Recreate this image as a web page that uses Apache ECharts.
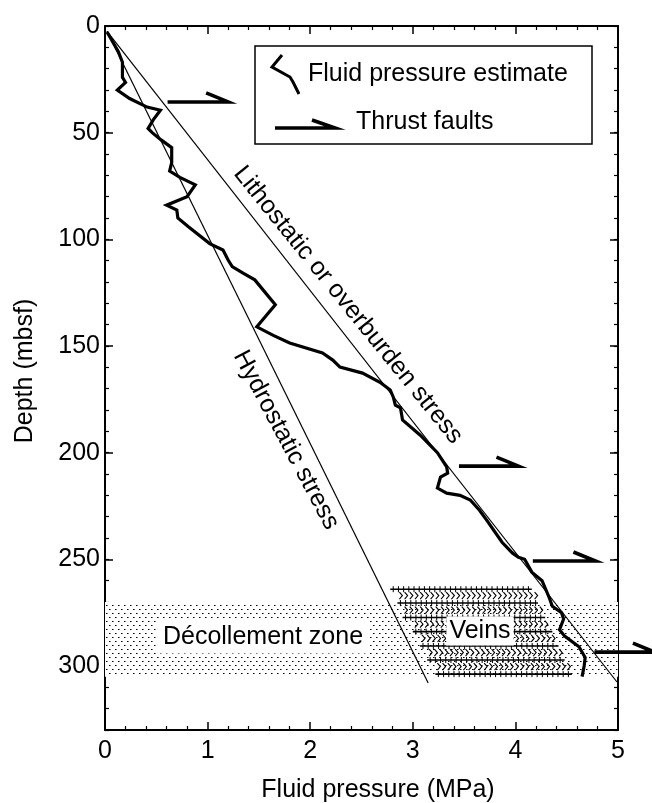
<!DOCTYPE html>
<html>
<head>
<meta charset="utf-8">
<script src="https://cdn.jsdelivr.net/npm/echarts@6/dist/echarts.min.js"></script>
<style>
  html, body { margin: 0; padding: 0; background: #fff; }
  #main { width: 652px; height: 803px; }
</style>
</head>
<body>
<div id="main"></div>
<script>
// fluid pressure estimate (MPa vs depth mbsf)
var fluidX = [0.02, 0.13, 0.17, 0.17, 0.2, 0.12, 0.24, 0.41, 0.54, 0.47, 0.42, 0.46, 0.55, 0.65, 0.65, 0.63,
  0.73, 0.88, 0.8, 0.6, 0.7, 0.71, 0.81, 1.02, 1.15, 1.2, 1.24, 1.35, 1.46, 1.66, 1.48, 1.64, 1.8, 2.12, 2.22,
  2.29, 2.51, 2.68, 2.78, 2.81, 2.83, 2.88, 2.9, 3.07, 3.24, 3.33, 3.34, 3.27, 3.24, 3.33, 3.46, 3.56, 3.65,
  3.72, 3.87, 3.97, 4.03, 4.09, 4.16, 4.26, 4.33, 4.36, 4.45, 4.47, 4.43, 4.48, 4.62, 4.68, 4.67, 4.65];
var fluidDepth = [2.8, 12, 17, 24, 26.5, 30, 34, 38, 39.5, 44, 48, 50, 53.5, 57, 64, 68,
  71, 74.5, 80, 84, 86.3, 90, 94, 102, 105, 109.7, 112.8, 116, 119, 130.7, 141, 145, 148.6, 153.3, 156.6,
  159.9, 162.7, 167, 170.6, 174, 177.7, 179, 184.7, 191.7, 200, 206.7, 209.6, 211.4, 216.6, 219, 220, 222.2, 227,
  231.6, 242, 247, 249, 250, 256, 260, 268, 272, 275, 278, 283, 286, 291, 296, 300, 305];

// reference stress lines (end points)
var hydroX = [0.02, 3.15];
var hydroDepth = [2.5, 308];
var lithoX = [0.02, 4.99];
var lithoDepth = [2.5, 307.5];

// thrust faults
var thrustStart = [0.61, 3.45, 4.17, 4.77];
var thrustEnd = [1.2, 4.03, 4.78, 5.36];
var thrustDepth = [35.6, 206.3, 250.8, 293.5];

// veins rows
var veinStart = [2.78, 2.85, 2.9, 3.0, 3.07, 3.14, 3.22];
var veinEnd = [4.16, 4.22, 4.29, 4.36, 4.42, 4.48, 4.55];
var veinDepth = [264, 270.5, 277.3, 283.9, 290.6, 297.2, 303.8];

// decollement zone
var zoneTop = 270;
var zoneBottom = 305;

var chart = echarts.init(document.getElementById('main'));

function pairs(xs, ys) {
  var out = [];
  for (var i = 0; i < xs.length; i++) out.push([xs[i], ys[i]]);
  return out;
}

// dotted fill for the zone
var dots = document.createElement('canvas');
dots.width = 6; dots.height = 8;
var dctx = dots.getContext('2d');
dctx.fillStyle = '#fff';
dctx.fillRect(0, 0, 6, 8);
dctx.fillStyle = '#000';
dctx.fillRect(1, 1, 1, 1);
dctx.fillRect(4, 5, 1, 1);
dctx.fillStyle = '#777';
dctx.fillRect(2, 1, 1, 1);
dctx.fillRect(5, 5, 1, 1);

var FONT = 'Liberation Sans';
var black = '#000';

function majorX(pos, showLabel) {
  return {
    type: 'value', position: pos, min: 0, max: 5, interval: 1,
    axisLine: { show: true, onZero: false, lineStyle: { color: black, width: 2 } },
    axisTick: { show: true, inside: true, length: 8, lineStyle: { color: black, width: 1.5 } },
    minorTick: { show: true, splitNumber: 5, length: 4, lineStyle: { color: black, width: 1.2 } },
    axisLabel: { show: showLabel, fontSize: 25, color: black, margin: 9, fontFamily: FONT },
    splitLine: { show: false }
  };
}
function yAx(pos, interval, len, showLine, showLabel) {
  return {
    type: 'value', position: pos, min: 0, max: 330, interval: interval, inverse: true,
    axisLine: { show: showLine, onZero: false, lineStyle: { color: black, width: 2 } },
    axisTick: { show: true, inside: true, length: len, lineStyle: { color: black, width: len > 5 ? 1.5 : 1.2 } },
    axisLabel: { show: showLabel, fontSize: 25, color: black, margin: 5, fontFamily: FONT, showMaxLabel: false },
    splitLine: { show: false }
  };
}

function renderThrust(params, api) {
  var p0 = api.coord([api.value(0), api.value(2)]);
  var p1 = api.coord([api.value(1), api.value(2)]);
  return {
    type: 'polyline',
    shape: { points: [p0, p1, [p1[0] - 22, p1[1] - 9]] },
    style: { stroke: black, lineWidth: 3.6, fill: null, lineJoin: 'miter' }
  };
}

function renderVein(params, api) {
  var a = api.coord([api.value(0), api.value(2)]);
  var b = api.coord([api.value(1), api.value(2)]);
  var y = a[1];
  var kids = [{ type: 'line', shape: { x1: a[0], y1: y, x2: b[0], y2: y }, style: { stroke: black, lineWidth: 1.6 } }];
  for (var x = a[0] + 3; x < b[0] - 2; x += 5.2) {
    kids.push({ type: 'line', shape: { x1: x, y1: y - 3, x2: x, y2: y + 3 }, style: { stroke: black, lineWidth: 1 } });
    if (params.dataIndex > 0) {
      kids.push({
        type: 'polyline',
        shape: { points: [[x - 1, y - 11], [x + 2, y - 7.5], [x - 1, y - 4]] },
        style: { stroke: black, lineWidth: 1.1, fill: null }
      });
    }
  }
  return { type: 'group', children: kids };
}

var option = {
  animation: false,
  backgroundColor: '#fff',
  textStyle: { fontFamily: FONT },
  grid: { left: 105, right: 34, top: 26, bottom: 73, containLabel: false, outerBoundsMode: 'none' },
  xAxis: [majorX('bottom', true), majorX('top', false)],
  yAxis: [
    yAx('left', 50, 8, true, true),
    yAx('left', 10, 4, false, false),
    yAx('right', 50, 8, true, false),
    yAx('right', 10, 4, false, false)
  ],
  series: [
    {
      name: 'zone', type: 'line', data: [], z: 1,
      markArea: {
        silent: true,
        itemStyle: { color: { image: dots, repeat: 'repeat' } },
        data: [[{ yAxis: zoneTop }, { yAxis: zoneBottom }]]
      }
    },
    {
      name: 'Veins', type: 'custom', renderItem: renderVein, z: 2, clip: false, silent: true,
      data: veinStart.map(function (s, i) { return [s, veinEnd[i], veinDepth[i]]; })
    },
    {
      name: 'Hydrostatic stress', type: 'line', data: pairs(hydroX, hydroDepth), z: 4,
      symbol: 'none', lineStyle: { color: black, width: 1.2 }
    },
    {
      name: 'Lithostatic or overburden stress', type: 'line', data: pairs(lithoX, lithoDepth), z: 4,
      symbol: 'none', lineStyle: { color: black, width: 1.2 }
    },
    {
      name: 'Fluid pressure estimate', type: 'line', data: pairs(fluidX, fluidDepth), z: 5,
      symbol: 'none', lineStyle: { color: black, width: 3.2, join: 'miter' }
    },
    {
      name: 'Thrust faults', type: 'custom', renderItem: renderThrust, z: 5, clip: false, silent: true,
      data: thrustStart.map(function (s, i) { return [s, thrustEnd[i], thrustDepth[i]]; })
    }
  ],
  graphic: [
    // legend
    { type: 'rect', z: 100, shape: { x: 255, y: 46, width: 337, height: 98 },
      style: { fill: '#fff', stroke: black, lineWidth: 1.5 } },
    { type: 'polyline', z: 101, shape: { points: [[282, 55], [272, 67], [290, 77], [293, 82], [299, 94]] },
      style: { stroke: black, lineWidth: 3, fill: null } },
    { type: 'text', z: 101, x: 308, y: 74,
      style: { text: 'Fluid pressure estimate', fontSize: 25, fontFamily: FONT, fill: black, verticalAlign: 'middle' } },
    { type: 'polyline', z: 101, shape: { points: [[275, 128], [335, 128], [312, 120]] },
      style: { stroke: black, lineWidth: 3.6, fill: null } },
    { type: 'text', z: 101, x: 356, y: 122,
      style: { text: 'Thrust faults', fontSize: 25, fontFamily: FONT, fill: black, verticalAlign: 'middle' } },
    // line labels
    { type: 'text', z: 50, x: 348, y: 305, rotation: -51 * Math.PI / 180,
      style: { text: 'Lithostatic or overburden stress', fontSize: 25, fontFamily: FONT, fill: black,
        align: 'center', verticalAlign: 'middle' } },
    { type: 'text', z: 50, x: 286, y: 440, rotation: -62 * Math.PI / 180,
      style: { text: 'Hydrostatic stress', fontSize: 25, fontFamily: FONT, fill: black,
        align: 'center', verticalAlign: 'middle' } },
    // zone labels
    { type: 'text', z: 50, x: 263, y: 637,
      style: { text: 'Décollement zone', fontSize: 25, fontFamily: FONT, fill: black, align: 'center',
        verticalAlign: 'middle', backgroundColor: '#fff', padding: [4, 7, 4, 7] } },
    { type: 'text', z: 50, x: 480, y: 631,
      style: { text: 'Veins', fontSize: 25, fontFamily: FONT, fill: black, align: 'center',
        verticalAlign: 'middle', backgroundColor: '#fff', padding: [2, 3, 2, 3] } },
    // axis names
    { type: 'text', z: 50, x: 25, y: 371, rotation: Math.PI / 2,
      style: { text: 'Depth (mbsf)', fontSize: 25, fontFamily: FONT, fill: black, align: 'center', verticalAlign: 'middle' } },
    { type: 'text', z: 50, x: 378, y: 790,
      style: { text: 'Fluid pressure (MPa)', fontSize: 25, fontFamily: FONT, fill: black, align: 'center', verticalAlign: 'middle' } }
  ]
};

chart.setOption(option);
</script>
</body>
</html>
